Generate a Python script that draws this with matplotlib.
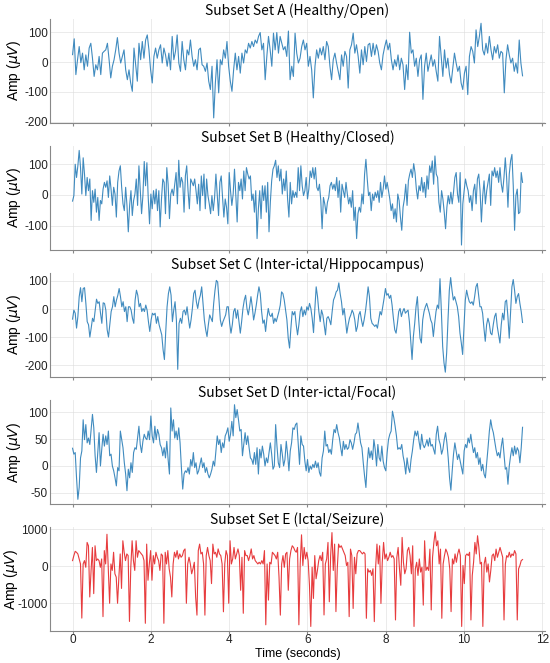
import numpy as np
import matplotlib
matplotlib.use('Agg')
import matplotlib.pyplot as plt
from matplotlib.ticker import MultipleLocator

plt.rcParams['font.family'] = ['Noto Sans CJK SC', 'DejaVu Sans']
plt.rcParams['axes.unicode_minus'] = False

# values (uV), evenly spaced over 0..11.5 s
set_a = [25,78,-42,8,52,-2,30,-26,24,-14,47,63,13,-48,-9,-26,19,-42,30,36,41,63,8,-53,-14,8,41,82,30,-3,19,41,-26,-59,-26,-70,-98,47,-9,-64,
         63,8,69,13,74,91,41,-26,-70,19,47,13,41,58,-3,47,24,-14,30,-26,86,8,36,91,-3,-31,69,8,-26,41,24,74,19,-14,8,-26,41,47,-9,-14,
         -31,-3,-64,-92,-14,-187,-70,8,-103,8,-9,41,13,69,-14,-64,-98,-26,30,-26,19,-37,30,-3,41,30,63,47,69,52,74,63,86,99,41,63,-59,19,
         86,41,-14,97,41,99,30,86,63,41,52,19,104,-59,-14,-48,
         97,30,-3,13,52,74,41,63,-14,19,-26,-120,-14,41,13,47,24,52,8,69,52,-14,-59,8,30,-3,-31,-59,24,-14,36,19,-87,41,58,97,30,58,19,
         -37,41,-9,52,2,58,63,19,63,24,58,36,-3,-26,24,52,74,41,63,8,-26,8,-14,24,-26,13,-9,-92,-9,-59,100,30,41,-14,13,-48,8,24,-125,
         -14,30,-31,-3,24,-14,8,-31,-64,86,19,-48,41,-20,13,-42,-70,-20,30,-3,-31,-14,-70,-92,-37,-14,-109,19,52,36,-3,108,52,86,130,41,
         24,63,30,86,41,8,52,30,58,13,36,30,-103,8,58,24,-3,13,-31,-3,-37,74,-3,-46]

set_b = [-20,-2,100,57,95,145,89,3,121,68,-2,57,14,52,-83,14,-24,19,-56,-8,-83,-18,-29,19,41,25,46,-8,62,19,-34,25,3,-72,41,78,95,25,
         -29,-51,25,-34,-120,-34,14,-67,-18,3,52,-34,95,14,-61,-2,109,30,105,-8,-94,3,-45,14,-29,19,-51,14,-104,-13,52,41,-61,89,35,-77,
         3,19,-2,35,73,-29,113,25,57,41,-56,62,95,14,-45,52,41,30,52,14,-29,35,-51,62,-2,68,-45,52,-2,-29,-61,-2,-51,-8,68,3,-67,41,62,
         -8,-72,-13,-40,-94,73,14,-34,3,84,-2,-88,41,14,52,-13,78,14,89,68,52,62,-18,3,-56,14,-142,-45,14,-77,30,-18,30,-56,41,-120,-24,
         46,84,95,113,57,95,46,84,3,52,14,78,-13,-72,41,-29,14,-8,9,-8,89,14,
         95,30,-2,14,57,-13,19,78,57,89,52,89,25,14,35,-18,-110,-8,-29,-61,-24,-8,30,41,19,35,14,57,-8,46,-56,35,14,-8,41,3,-29,-8,-40,
         14,-83,-40,-142,-61,-40,-56,3,-29,68,116,52,-2,9,-51,3,-18,9,-8,14,-24,41,-8,19,62,19,41,14,-13,-51,-29,-77,-45,-88,3,-18,-72,
         -115,-40,-13,35,-34,46,68,84,57,102,73,19,-13,30,14,57,9,41,-8,62,19,95,73,111,35,127,68,57,-24,-56,14,-13,-56,-110,-40,-2,-29,
         9,-29,9,57,73,3,-24,73,-163,-29,14,52,30,14,-24,-2,-51,14,35,-29,52,68,14,-88,-2,46,-29,14,41,68,-34,78,62,89,57,78,41,89,35,
         9,57,121,57,-40,68,111,132,30,-115,-2,19,-61,-56,73,41]

set_c = [-36,-4,-15,-68,-27,44,76,26,73,76,20,-45,-56,-100,-68,-33,-45,-4,35,20,26,-15,-51,22,20,-4,-74,-100,-56,-9,8,44,8,32,49,73,
         44,8,26,-9,8,-45,8,8,-4,-33,-51,32,67,49,8,20,-9,2,-9,14,-4,-45,-80,-39,-15,-21,-15,-51,-27,-56,-74,-92,-145,-180,-80,8,55,79,
         49,-45,-4,26,-39,-215,-51,-33,-51,-9,-4,-21,8,-33,-68,-39,2,55,67,26,2,32,49,79,20,-39,-74,-98,-56,-21,-33,-45,20,67,102,96,32,
         -39,-62,-45,-33,-21,8,8,-51,-86,-56,-9,2,-33,-4,-45,-86,-45,2,32,49,2,-21,8,44,8,-39,-15,14,49,79,55,-9,-51,-39,-80,-33,2,-21,
         -27,-15,-51,-33,-45,-27,-9,14,61,55,32,-4,-39,-104,-139,-68,-9,-21,-9,-56,-92,-56,
         -9,8,-27,-4,-21,8,-4,20,2,-33,-84,2,79,44,-9,-45,-4,-21,-56,-92,-33,-27,-39,-56,-9,32,44,61,67,93,55,26,-21,2,-39,-86,-56,-33,
         -21,-4,-15,-39,-80,-62,-21,-9,-39,-62,-39,-9,32,79,44,-33,-51,-56,-62,-56,-68,-39,-9,-21,8,38,73,49,55,38,49,14,-33,-74,-86,-51,
         -9,2,-27,-9,2,-15,-9,-4,-45,-115,-180,-98,-51,8,44,-39,-104,-121,-39,-9,8,20,2,-15,-39,-51,-98,-51,-9,14,2,108,-4,-133,-192,
         -225,-156,-39,67,112,67,32,44,26,8,-27,-86,-121,-162,-62,32,67,44,26,20,26,14,44,79,91,49,8,8,-15,-68,-115,-56,-33,-51,-86,-92,
         -56,-27,-15,-62,-92,-121,-56,-15,-39,26,32,-27,-104,-9,79,105,67,20,44,55,20,-9,-48]

set_d = [33,22,25,-22,-62,-40,15,28,86,49,77,43,52,40,68,96,71,19,-12,25,62,0,31,59,37,56,40,65,19,22,0,-9,-22,-37,-3,-9,65,49,34,6,
         -15,-46,-6,-22,6,-12,25,34,31,52,74,40,25,46,59,52,49,65,49,93,56,43,74,49,68,59,40,34,19,34,15,46,12,-15,108,65,86,52,65,49,
         71,43,-3,-43,-15,-9,-12,-3,-15,12,0,25,-3,6,-15,-9,3,15,-3,6,-12,-3,-15,-22,-15,-6,9,0,28,56,40,49,25,43,34,56,62,71,46,59,83,
         56,114,90,105,86,65,68,19,40,62,40,56,34,15,12,3,25,3,34,-15,31,15,37,22,0,15,6,25,43,22,-6,0,77,37,6,-3,40,22,0,12,46,22,-9,
         28,43,71,68,77,80,40,3,
         56,40,37,9,-9,12,-12,0,-6,3,-3,9,-3,6,-12,-19,15,28,65,37,40,25,31,22,49,68,62,77,62,52,34,19,46,31,40,31,34,49,43,31,43,59,62,
         80,62,43,34,6,-19,-40,6,34,15,28,12,49,31,0,40,15,9,37,9,-3,-9,25,49,59,65,102,90,74,56,31,34,31,40,19,6,-15,15,-3,-12,12,28,
         49,65,56,65,46,31,59,40,34,40,49,37,52,37,40,31,22,59,74,49,40,22,31,49,62,43,15,-22,-45,-9,22,43,28,12,22,9,-3,-15,28,40,34,
         52,43,59,40,25,34,15,25,3,15,-9,3,-15,-22,6,34,65,86,71,62,46,31,19,25,15,37,52,22,-6,-3,-34,0,19,34,19,37,22,34,28,6,34,72]

set_e = [150,285,400,373,330,195,60,-1400,60,150,-30,640,550,-830,-115,505,-740,550,150,195,150,-30,195,-1360,420,60,860,-70,-1000,60,
         -115,375,-205,-295,-1000,-295,330,-600,685,375,150,330,285,-1490,-30,685,150,-115,685,240,420,375,330,285,150,-1540,595,-380,60,
         420,-380,285,60,375,240,150,-115,330,285,-1540,375,60,420,-70,-295,-830,60,375,240,420,195,330,240,285,420,465,-1000,60,240,60,
         -205,-70,105,-830,-1320,420,595,330,375,60,-1320,285,505,285,150,-470,595,330,375,240,465,330,285,60,-1230,60,420,285,-1000,685,
         60,195,505,195,330,465,285,-650,240,-1270,420,285,285,150,285,465,195,285,150,105,60,105,60,150,60,420,-1580,60,-915,105,60,375,
         330,285,195,375,-295,-1320,60,285,-30,330,375,-650,195,420,550,505,420,375,505,-1580,60,
         845,18,505,195,375,150,-515,-1625,-27,-870,285,-340,-115,150,285,150,375,-1315,60,195,640,-960,285,905,-115,595,-1225,-70,595,505,
         550,460,375,285,18,105,-1360,460,285,-1140,240,-205,330,420,420,375,330,375,330,-1405,-70,-160,-115,-250,-70,-1495,-27,595,60,550,
         -1005,105,640,195,330,150,240,375,240,285,195,-1450,240,505,-70,-515,775,105,-205,-70,420,505,285,-205,550,-1625,-70,105,-250,195,
         -160,-27,-1050,685,-115,-27,-115,460,-1180,240,640,925,550,685,60,460,-1405,60,285,460,375,240,-70,-1225,195,60,330,105,330,460,
         285,-1625,18,-470,285,330,285,375,-1450,-250,105,640,330,820,505,60,105,-1625,60,240,-160,60,-425,-115,285,330,150,460,240,375,
         505,375,240,-1450,60,285,240,375,240,330,285,420,330,-1450,-70,18,150,178]

titles = ['Subset Set A (Healthy/Open)', 'Subset Set B (Healthy/Closed)',
          'Subset Set C (Inter-ictal/Hippocampus)', 'Subset Set D (Inter-ictal/Focal)',
          'Subset Set E (Ictal/Seizure)']
signals = [set_a, set_b, set_c, set_d, set_e]
colors = ['#1f77b4', '#1f77b4', '#1f77b4', '#1f77b4', '#e31a1c']
ysteps = [100, 100, 100, 50, 1000]
label_x = [-0.054, -0.054, -0.054, -0.054, -0.06]
duration = 11.5
lab_font = 'Liberation Sans'

fig, axes = plt.subplots(5, 1, figsize=(5.5, 6.63), dpi=100, sharex=True)
fig.subplots_adjust(left=0.091, right=0.991, top=0.972, bottom=0.048, hspace=0.222)

for ax, sig, title, c, st, lx in zip(axes, signals, titles, colors, ysteps, label_x):
    t = np.linspace(0, duration, len(sig))
    ax.plot(t, sig, color=c, linewidth=0.8, alpha=0.85)
    ax.set_title(title, fontsize=10, pad=2.5)
    ax.set_ylabel(r'Amp ($\mu V$)', fontsize=10, family=lab_font)
    ax.yaxis.set_label_coords(lx, 0.5)
    ax.yaxis.set_major_locator(MultipleLocator(st))
    ax.grid(True, color='#dddddd', linewidth=0.6, alpha=0.7)
    ax.spines['top'].set_visible(False)
    ax.spines['right'].set_visible(False)
    for s in ('left', 'bottom'):
        ax.spines[s].set_color('#888888')
    ax.tick_params(axis='x', labelsize=8.5, labelfontfamily=lab_font, colors='#222222',
                   length=2, pad=0, color='#888888')
    ax.tick_params(axis='y', labelsize=8.5, labelfontfamily=lab_font, colors='#222222',
                   length=0, pad=1.5)

axes[-1].set_xlabel('Time (seconds)', fontsize=9, family=lab_font)
axes[-1].xaxis.set_label_coords(0.5, -0.162)
axes[-1].xaxis.set_major_locator(MultipleLocator(2))

plt.savefig('out.png', dpi=100)
